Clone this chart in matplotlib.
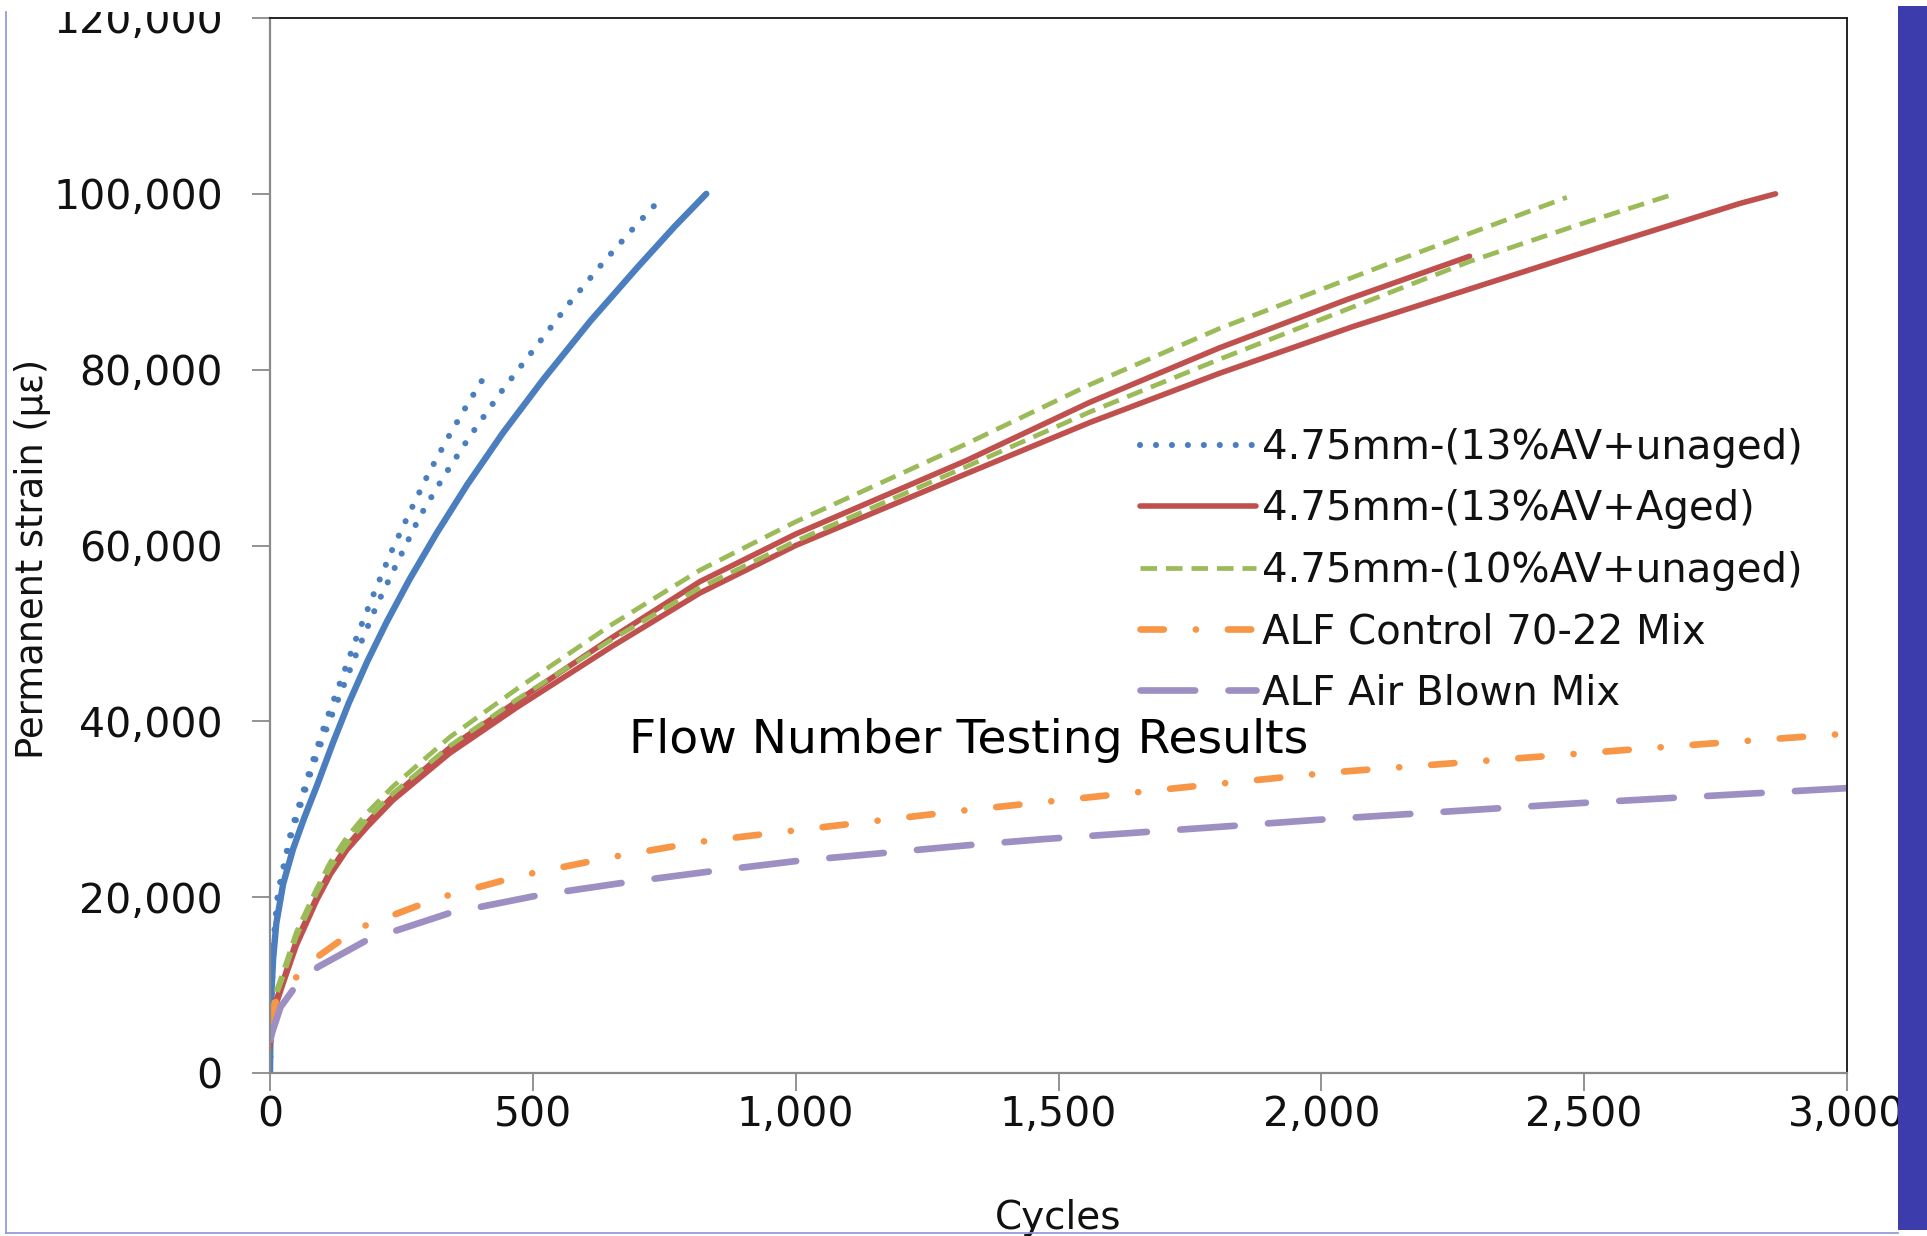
import matplotlib
matplotlib.use("Agg")
import matplotlib.pyplot as plt
from matplotlib.patches import Rectangle
from matplotlib.lines import Line2D
from matplotlib.ticker import FuncFormatter

# ---- Flow number test data: cycles vs permanent strain (microstrain) ----
# 4.75mm mix, 13% air voids, unaged (three specimens)
unaged13_a_cycles = [0, 2, 6, 15, 40, 76, 105, 137, 165, 196, 230, 266, 300, 336, 375, 416]
unaged13_a_strain = [0, 7500, 14500, 20500, 27500, 34500, 39800, 45000, 49600, 54300, 59200,
                     63800, 68000, 72000, 76000, 80000]
unaged13_b_cycles = [0, 2, 6, 15, 40, 76, 100, 133, 165, 203, 240, 285, 330, 380, 440, 507,
                     570, 634, 690, 741]
unaged13_b_strain = [0, 7000, 14000, 20000, 27000, 33900, 38000, 43000, 47800, 53200, 57800,
                     63300, 67800, 72400, 77500, 82700, 87600, 92200, 96000, 99300]
unaged13_c_cycles = [0, 1, 3, 6, 12, 25, 44, 65, 90, 120, 150, 185, 222, 265, 317, 375, 443,
                     520, 609, 700, 770, 830]
unaged13_c_strain = [0, 5000, 9500, 13000, 17000, 21500, 25500, 29000, 32800, 37600, 42100,
                     46800, 51300, 56100, 61400, 66900, 72800, 78900, 85500, 91700, 96300, 100000]

# 4.75mm mix, 13% air voids, aged (two specimens)
aged13_a_cycles = [0, 3, 10, 25, 50, 89, 115, 146, 185, 234, 342, 470, 650, 818, 1000, 1326,
                   1560, 1807, 2060, 2315, 2550, 2796, 2864]
aged13_a_strain = [3000, 5500, 7500, 10200, 14500, 19670, 22600, 25350, 28000, 31040, 36380,
                   41600, 48500, 54600, 60000, 68200, 74000, 79600, 84900, 89800, 94300,
                   98900, 100000]
aged13_b_cycles = [0, 3, 10, 25, 50, 89, 115, 146, 185, 234, 342, 470, 650, 818, 1000, 1326,
                   1560, 1807, 2050, 2282]
aged13_b_strain = [3000, 5800, 8000, 10500, 15000, 20000, 23000, 25800, 28500, 31500, 37000,
                   42300, 49500, 55900, 61300, 69700, 76300, 82500, 88000, 92900]

# 4.75mm mix, 10% air voids, unaged (two specimens)
unaged10_a_cycles = [0, 3, 10, 25, 50, 89, 115, 146, 185, 234, 342, 470, 650, 818, 1000, 1326,
                     1560, 1807, 2125, 2467]
unaged10_a_strain = [3500, 6500, 9000, 11500, 16000, 21000, 24000, 26800, 29600, 32600, 38200,
                     43700, 51000, 57200, 62700, 71600, 78300, 84700, 92000, 99600]
unaged10_b_cycles = [0, 3, 10, 25, 50, 89, 115, 146, 185, 234, 342, 470, 650, 818, 1000, 1326,
                     1560, 1807, 2050, 2282, 2480, 2672]
unaged10_b_strain = [3500, 6200, 8500, 11000, 15500, 20500, 23400, 26000, 28900, 31800, 37200,
                     42500, 49300, 55200, 60500, 69000, 75200, 81200, 86900, 92300, 96300, 100000]

# ALF control 70-22 mix
alf_control_cycles = [1, 10, 38, 76, 165, 320, 481, 650, 818, 1000, 1326, 1756, 2022, 2419,
                      2700, 3000]
alf_control_strain = [5500, 8000, 10100, 12600, 16400, 19900, 22500, 24560, 26300, 27600,
                      29900, 32600, 34200, 36000, 37300, 38600]

# ALF air blown mix
alf_airblown_cycles = [1, 4, 20, 48, 91, 184, 342, 513, 679, 843, 1000, 1326, 1471, 1807,
                       1986, 2492, 3000]
alf_airblown_strain = [3800, 4600, 7500, 9800, 12050, 15100, 18200, 20240, 21700, 22970,
                       24100, 25900, 26600, 28000, 28770, 30700, 32400]

legend_labels = ["4.75mm-(13%AV+unaged)", "4.75mm-(13%AV+Aged)", "4.75mm-(10%AV+unaged)",
                 "ALF Control 70-22 Mix", "ALF Air Blown Mix"]
x_ticks = [0, 500, 1000, 1500, 2000, 2500, 3000]
y_ticks = [0, 20000, 40000, 60000, 80000, 100000, 120000]

BLUE = "#4A7EBF"
RED = "#C0504D"
GREEN = "#9BBB59"
ORANGE = "#F79646"
PURPLE = "#9E8FC3"

W, H = 1927, 1236
fig = plt.figure(figsize=(W / 100, H / 100), dpi=100)
fig.patch.set_facecolor("white")
ax = fig.add_axes([270 / W, 1 - 1073 / H, (1847 - 270) / W, (1073 - 18) / H])

dot_style = dict(color=BLUE, lw=4.4, linestyle=(0, (0.01, 2.6)), dash_capstyle="round",
                 solid_joinstyle="round")
ax.plot(unaged13_a_cycles, unaged13_a_strain, **dot_style, label=legend_labels[0])
ax.plot(unaged13_b_cycles, unaged13_b_strain, **dot_style, label="_nolegend_")
ax.plot(unaged13_c_cycles, unaged13_c_strain, color=BLUE, lw=4.6, solid_capstyle="round",
        solid_joinstyle="round", label="_nolegend_")

red_style = dict(color=RED, lw=4.0, solid_capstyle="round", solid_joinstyle="round")
ax.plot(aged13_a_cycles, aged13_a_strain, **red_style, label=legend_labels[1])
ax.plot(aged13_b_cycles, aged13_b_strain, **red_style, label="_nolegend_")

green_style = dict(color=GREEN, lw=3.4, linestyle=(0, (3.5, 1.9)), dash_capstyle="butt")
ax.plot(unaged10_a_cycles, unaged10_a_strain, **green_style, label=legend_labels[2])
ax.plot(unaged10_b_cycles, unaged10_b_strain, **green_style, label="_nolegend_")

ax.plot(alf_control_cycles, alf_control_strain, color=ORANGE, lw=4.8,
        linestyle=(0, (3.5, 4.8, 0.01, 4.8)), dash_capstyle="round", label=legend_labels[3])
ax.plot(alf_airblown_cycles, alf_airblown_strain, color=PURPLE, lw=4.8,
        linestyle=(0, (8.2, 5.0)), dash_capstyle="round", label=legend_labels[4])

ax.set_xlim(0, 3000)
ax.set_ylim(0, 120000)
ax.set_xticks(x_ticks)
ax.set_yticks(y_ticks)
fmt = FuncFormatter(lambda v, p: f"{int(v):,}")
ax.xaxis.set_major_formatter(fmt)
ax.yaxis.set_major_formatter(fmt)

for side in ("left", "bottom"):
    ax.spines[side].set_color("#8A8A8A")
    ax.spines[side].set_linewidth(1.6)
for side in ("top", "right"):
    ax.spines[side].set_color("#222222")
    ax.spines[side].set_linewidth(1.4)

ax.tick_params(axis="both", direction="out", length=13, width=1.3, color="#8A8A8A",
               labelsize=29.5, labelcolor="#111111")
ax.tick_params(axis="x", pad=3)
ax.tick_params(axis="y", pad=21)

leg = ax.legend(loc="upper left", bbox_to_anchor=(1140 / W, 1 - 428 / H),
                bbox_transform=fig.transFigure, frameon=False, fontsize=29,
                borderpad=0, borderaxespad=0, handlelength=2.88, handletextpad=0.15,
                labelspacing=0.53)
for t in leg.get_texts():
    t.set_color("#111111")

fig.text(629 / W, 1 - 753 / H, "Flow Number Testing Results", fontsize=34,
         ha="left", va="baseline", color="black")
fig.text(33 / W, 1 - 559 / H, "Permanent strain (\u03bc\u03b5)", fontsize=26.5,
         rotation=90, ha="center", va="center", color="#111111")
fig.text(1058 / W, 1 - 1218 / H, "Cycles", fontsize=28, ha="center", va="center",
         color="#111111")

# slide frame: thin border lines, blue side band and clipped top margin
fig.add_artist(Rectangle((0, 1 - 12 / H), 1, 12 / H, transform=fig.transFigure,
                         facecolor="white", edgecolor="none", zorder=20))
fig.add_artist(Line2D([6 / W, 6 / W], [1 - 1233 / H, 1 - 12 / H], transform=fig.transFigure,
                      color="#8E92D6", lw=1.2, zorder=21))
fig.add_artist(Line2D([6 / W, 1898 / W], [1 - 1233 / H, 1 - 1233 / H], transform=fig.transFigure,
                      color="#8E92D6", lw=1.2, zorder=21))
fig.add_artist(Rectangle((1898 / W, 1 - 1230 / H), (W - 1898) / W, (1230 - 6) / H,
                         transform=fig.transFigure, facecolor="#3C3CAC", edgecolor="none",
                         zorder=21))

fig.savefig("out.png", dpi=100, facecolor="white")
